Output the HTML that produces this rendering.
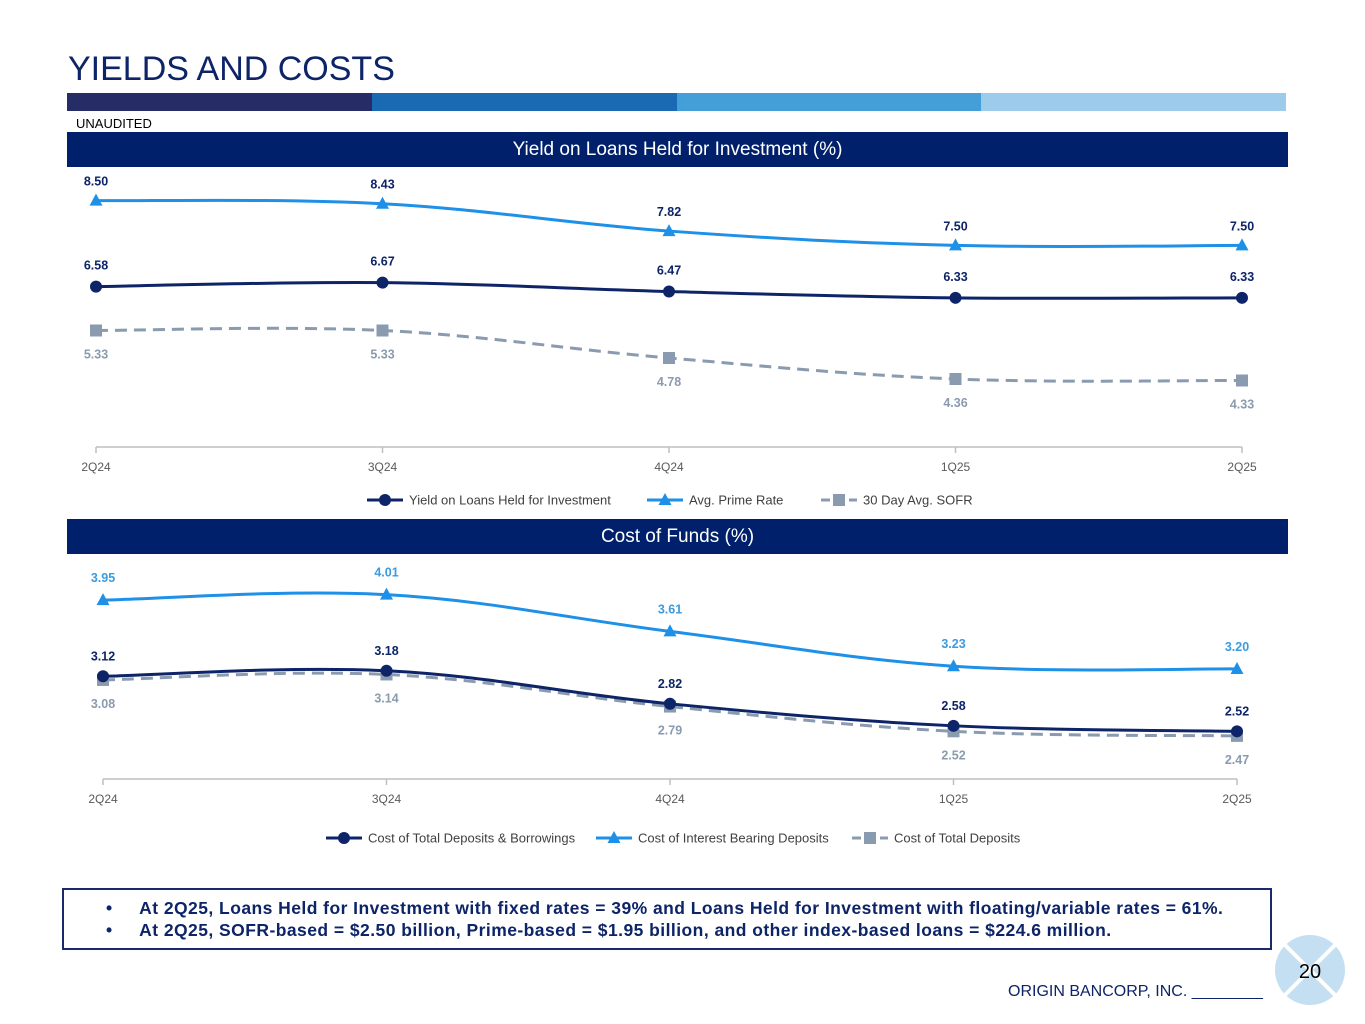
<!DOCTYPE html>
<html><head><meta charset="utf-8"><style>
body{margin:0;width:1365px;height:1024px;background:#fff;font-family:"Liberation Sans",sans-serif;position:relative;overflow:hidden}
.abs{position:absolute}
</style></head><body>
<div class="abs" style="left:68px;top:50px;font-size:34px;color:#0d2468">YIELDS AND COSTS</div>
<div class="abs" style="left:67px;top:93px;width:1219px;height:18px;display:flex">
<div style="flex:1;background:#262c65"></div><div style="flex:1;background:#1a6ab3"></div><div style="flex:1;background:#449fd8"></div><div style="flex:1;background:#9ccbeb"></div></div>
<div class="abs" style="left:76px;top:116px;font-size:13px;color:#000">UNAUDITED</div>
<div class="abs" style="left:67px;top:132px;width:1221px;height:35px;background:#00206b;color:#fff;font-size:19px;text-align:center;line-height:35px">Yield on Loans Held for Investment (%)</div>
<div class="abs" style="left:67px;top:519px;width:1221px;height:35px;background:#00206b;color:#fff;font-size:19px;text-align:center;line-height:35px">Cost of Funds (%)</div>
<svg class="abs" style="left:0;top:0" width="1365" height="1024" id="svg"></svg>
<div class="abs" style="left:62px;top:888px;width:1206px;height:58px;border:2px solid #1b2a6b;font-size:17.5px;font-weight:bold;color:#0d2468;letter-spacing:0.45px">
<div style="position:absolute;left:42px;top:8px">•&nbsp;&nbsp;&nbsp;&nbsp;&nbsp;At 2Q25, Loans Held for Investment with fixed rates = 39% and Loans Held for Investment with floating/variable rates = 61%.</div>
<div style="position:absolute;left:42px;top:30px">•&nbsp;&nbsp;&nbsp;&nbsp;&nbsp;At 2Q25, SOFR-based = $2.50 billion, Prime-based = $1.95 billion, and other index-based loans = $224.6 million.</div></div>
<div class="abs" style="left:1008px;top:983px;font-size:16px;color:#0d2468">ORIGIN BANCORP, INC. ________</div>
<svg class="abs" style="left:1274px;top:934px" width="72" height="72">
<circle cx="36" cy="36" r="35" fill="#c5dff2"/><line x1="10" y1="10" x2="62" y2="62" stroke="#fff" stroke-width="4"/><line x1="62" y1="10" x2="10" y2="62" stroke="#fff" stroke-width="4"/>
<text x="36" y="44" font-size="20" text-anchor="middle" fill="#000" font-family="Liberation Sans">20</text></svg>
<script>
const cats=["2Q24","3Q24","4Q24","1Q25","2Q25"];
const yieldLoans=[6.58,6.67,6.47,6.33,6.33];
const primeRate=[8.50,8.43,7.82,7.50,7.50];
const sofr=[5.33,5.33,4.78,4.36,4.33];
const costTotalDepBorrow=[3.12,3.18,2.82,2.58,2.52];
const costIntBearing=[3.95,4.01,3.61,3.23,3.20];
const costTotalDep=[3.08,3.14,2.79,2.52,2.47];
const NS="http://www.w3.org/2000/svg";
const svg=document.getElementById('svg');
function el(t,a,p){const e=document.createElementNS(NS,t);for(const k in a)e.setAttribute(k,a[k]);(p||svg).appendChild(e);return e;}
function xs(x0,x1){return i=>x0+(x1-x0)*i/(cats.length-1);}
function ys(base,y0,ppu){return v=>y0-(v-base)*ppu;}
const NAVY="#0d2468",BLUE="#1e90e8",GREY="#8a9bb0";
function path(pts){let d="M"+pts[0][0]+","+pts[0][1];for(let i=0;i<pts.length-1;i++){const p0=pts[Math.max(i-1,0)],p1=pts[i],p2=pts[i+1],p3=pts[Math.min(i+2,pts.length-1)];const t=0.18;d+=" C"+(p1[0]+(p2[0]-p0[0])*t)+","+(p1[1]+(p2[1]-p0[1])*t)+" "+(p2[0]-(p3[0]-p1[0])*t)+","+(p2[1]-(p3[1]-p1[1])*t)+" "+p2[0]+","+p2[1];}return d;}
function marker(shape,x,y,c,name){let m;
if(shape==='circle')m=el('circle',{cx:x,cy:y,r:6,fill:c});
else if(shape==='tri')m=el('polygon',{points:(x)+","+(y-7)+" "+(x-6.5)+","+(y+5)+" "+(x+6.5)+","+(y+5),fill:c});
else m=el('rect',{x:x-6,y:y-6,width:12,height:12,fill:c});

}
function series(vals,X,Y,color,shape,dash,lblColor,dy,name){
const pts=vals.map((v,i)=>[X(i),Y(v)]);
const p=el('path',{d:path(pts),fill:'none',stroke:color,'stroke-width':3,'stroke-dasharray':dash||''});


pts.forEach((q,i)=>{marker(shape,q[0],q[1],color,name+'-point');
const t=el('text',{x:q[0],y:q[1]+dy,'text-anchor':'middle','font-size':12.5,'font-weight':'bold',fill:lblColor,'font-family':'Liberation Sans'});t.textContent=vals[i].toFixed(2);

});}
function axis(X,y){const l=el('line',{x1:X(0),x2:X(4),y1:y,y2:y,stroke:'#bfbfbf','stroke-width':1.5});


cats.forEach((c,i)=>{el('line',{x1:X(i),x2:X(i),y1:y,y2:y+6,stroke:'#bfbfbf','stroke-width':1.5});
const t=el('text',{x:X(i),y:y+24,'text-anchor':'middle','font-size':12,fill:'#595959','font-family':'Liberation Sans'});t.textContent=c;

});}
function legend(items,y,xStart){let x=xStart;items.forEach(it=>{el('line',{x1:x,x2:x+36,y1:y,y2:y,stroke:it[1],'stroke-width':3,'stroke-dasharray':it[3]||''});marker(it[2],x+18,y,it[1],'legend-marker');
const t=el('text',{x:x+42,y:y+4.5,'font-size':13,fill:'#404040','font-family':'Liberation Sans'});t.textContent=it[0];


x+=42+it[4];});}
const X1=xs(96,1242),Y1=ys(3,447,44.8),Y1b=ys(3,447,50);
axis(X1,447);
series(sofr,X1,Y1b,GREY,'sq','12,7',GREY,28,'sofr');
series(primeRate,X1,Y1,BLUE,'tri',null,NAVY,-15,'prime-rate');
series(yieldLoans,X1,Y1,NAVY,'circle',null,NAVY,-17,'yield-loans');
legend([["Yield on Loans Held for Investment",NAVY,'circle',null,238],["Avg. Prime Rate",BLUE,'tri',null,132],["30 Day Avg. SOFR",GREY,'sq','9,5',120]],500,367);
const X2=xs(103,1237),Y2=ys(2,779,91.7);
axis(X2,779);
series(costTotalDep,X2,Y2,GREY,'sq','12,7',GREY,28,'cost-total-deposits');
series(costIntBearing,X2,Y2,BLUE,'tri',null,'#3b9be0',-18,'cost-interest-bearing');
series(costTotalDepBorrow,X2,Y2,NAVY,'circle',null,NAVY,-16,'cost-total-dep-borrow');
legend([["Cost of Total Deposits & Borrowings",NAVY,'circle',null,228],["Cost of Interest Bearing Deposits",BLUE,'tri',null,214],["Cost of Total Deposits",GREY,'sq','9,5',140]],838,326);
</script>
</body></html>
